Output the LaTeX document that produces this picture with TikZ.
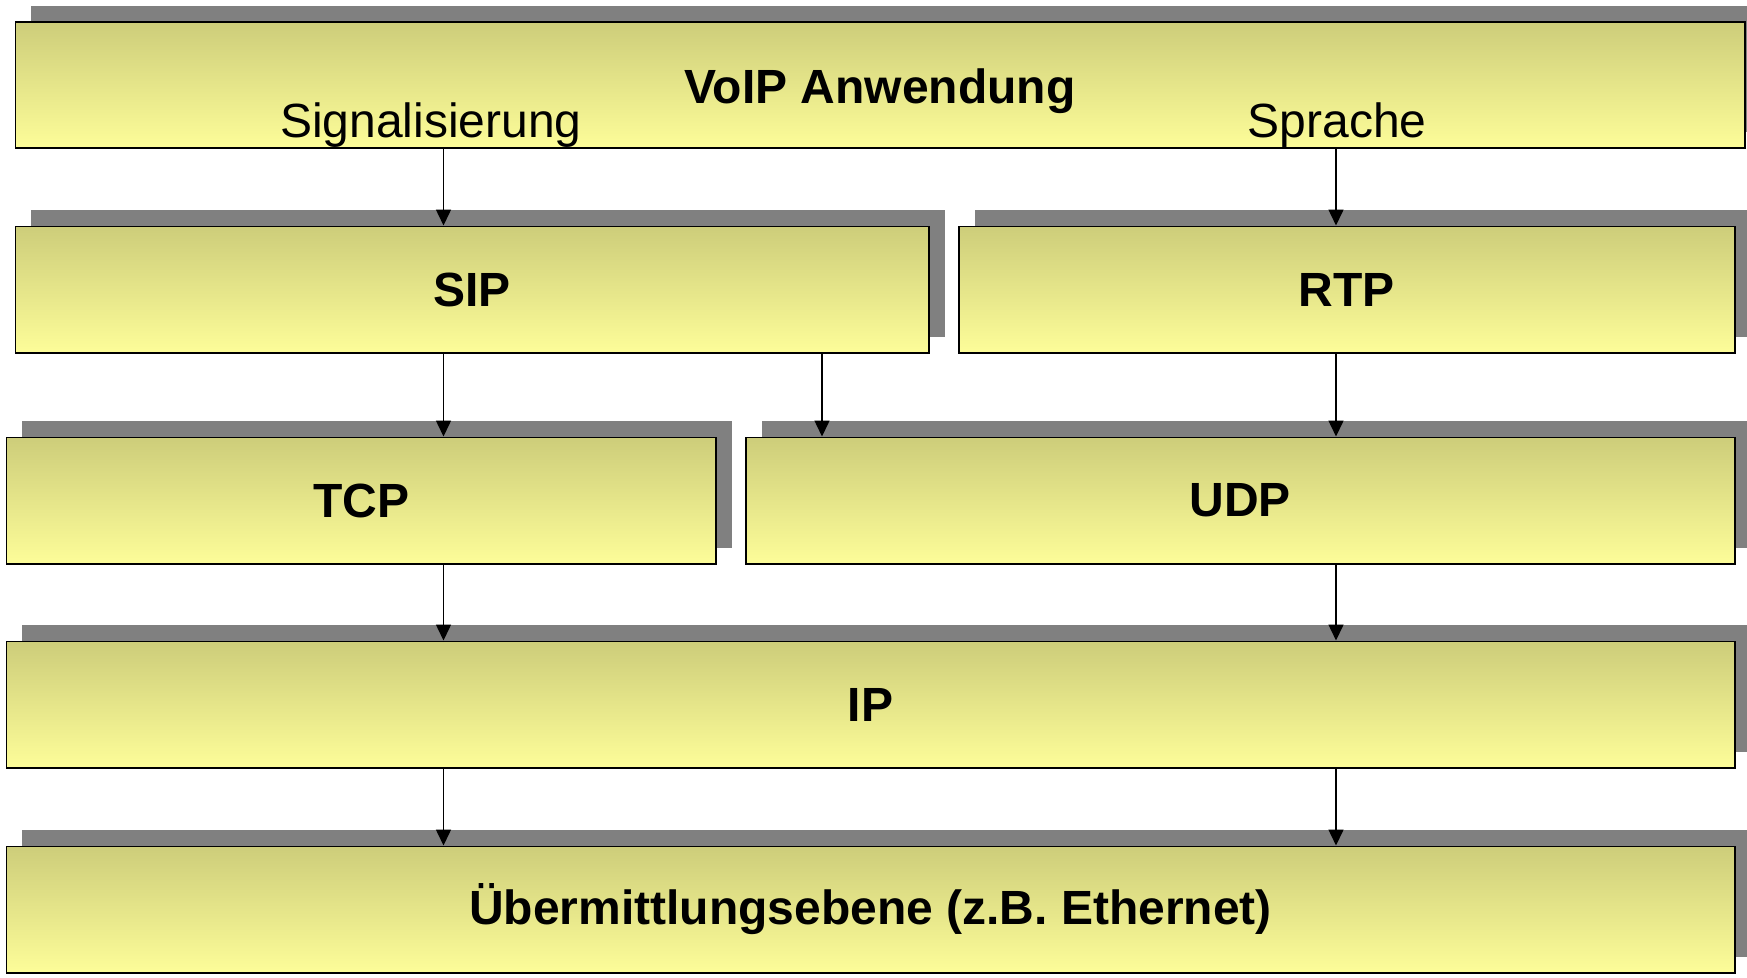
\documentclass[tikz,border=0pt]{standalone}
\usepackage{fontspec}
\setmainfont{Liberation Sans}
\usetikzlibrary{arrows.meta,shadows,calc}
\definecolor{ytop}{RGB}{205,205,122}
\definecolor{ybot}{RGB}{253,253,153}
\definecolor{shgray}{RGB}{128,128,128}
\begin{document}
\begin{tikzpicture}[x=1pt,y=-1pt,
  layer/.style={draw=black, line width=1.5pt, top color=ytop, bottom color=ybot,
    anchor=north west, inner sep=0pt, minimum height=126.5pt,
    font=\fontsize{48}{58}\selectfont\bfseries,
    drop shadow={shadow xshift=16pt, shadow yshift=16pt, fill=shgray, opacity=1, draw=none}},
  arr/.style={line width=1.5pt, -{Triangle[width=15pt,length=16pt]}},
  lbl/.style={font=\fontsize{48}{58}\selectfont, inner sep=0pt}]
\useasboundingbox (0,0) rectangle (1747,977);
\node[layer, minimum width=1729.5pt, minimum height=126pt] (voip) at (14.5,21) {};
\node[layer, minimum width=913.5pt] (sip) at (14.5,225.5) {SIP};
\node[layer, minimum width=776pt] (rtp) at (958,225.5) {RTP};
\node[layer, minimum width=709.5pt] (tcp) at (5.6,436.5) {TCP};
\node[layer, minimum width=989pt] (udp) at (745,436.5) {UDP};
\node[layer, minimum width=1728.5pt] (ip) at (5.6,640.5) {IP};
\node[layer, minimum width=1728.5pt] (eth) at (5.6,845.5) {Übermittlungsebene (z.B. Ethernet)};
\node[lbl, font=\fontsize{48}{58}\selectfont\bfseries] (title) at (880,91) {VoIP Anwendung};
\node[lbl] (sig) at (431,125) {Signalisierung};
\node[lbl] (spr) at (1337,125) {Sprache};
\coordinate (cL) at (443.5,0);
\coordinate (cR) at (1336,0);
\coordinate (cM) at (822,0);
\draw[arr] (voip.south -| cL) -- (sip.north -| cL);
\draw[arr] (voip.south -| cR) -- (rtp.north -| cR);
\draw[arr] (sip.south -| cL) -- (tcp.north -| cL);
\draw[arr] (sip.south -| cM) -- (udp.north -| cM);
\draw[arr] (rtp.south -| cR) -- (udp.north -| cR);
\draw[arr] (tcp.south -| cL) -- (ip.north -| cL);
\draw[arr] (udp.south -| cR) -- (ip.north -| cR);
\draw[arr] (ip.south -| cL) -- (eth.north -| cL);
\draw[arr] (ip.south -| cR) -- (eth.north -| cR);
\end{tikzpicture}
\end{document}
